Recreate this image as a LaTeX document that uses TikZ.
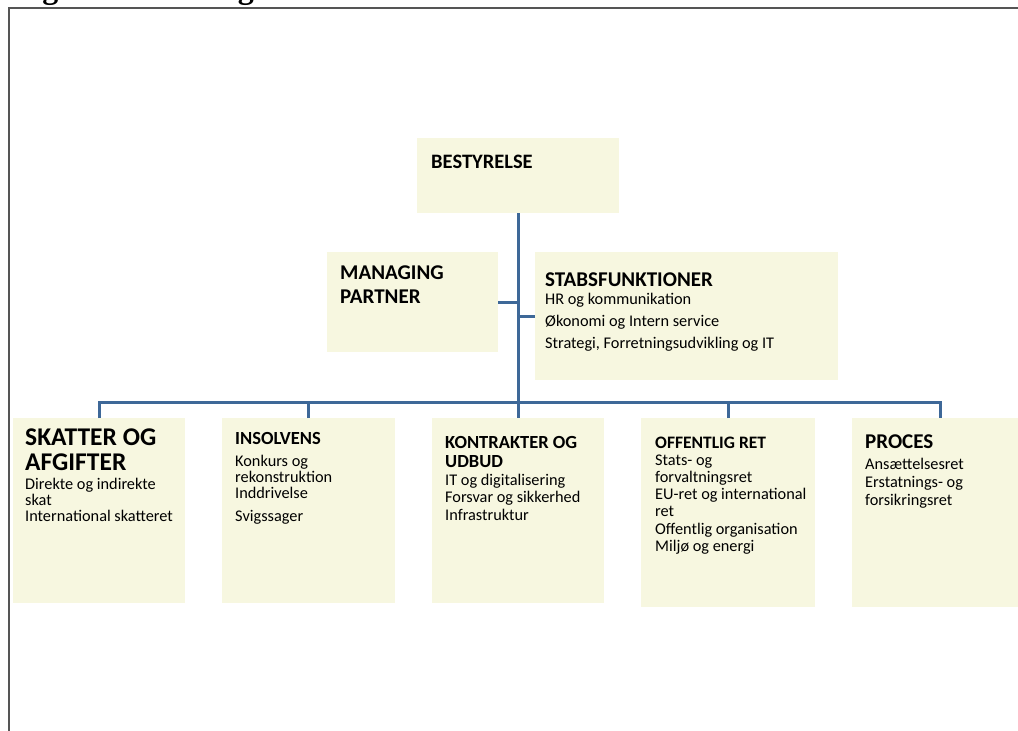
\documentclass[tikz,border=0pt]{standalone}
\usepackage{fontspec}
\setmainfont{Carlito}
\newfontfamily\titlefont{Liberation Serif}
\definecolor{boxfill}{RGB}{247,247,224}
\definecolor{connblue}{RGB}{62,104,152}
\definecolor{framegray}{RGB}{85,85,85}
\begin{document}
\begin{tikzpicture}[x=1pt,y=-1pt,
  box/.style={fill=boxfill, draw=none, inner sep=0pt, outer sep=0pt, anchor=north west},
  conn/.style={draw=connblue, line width=3pt},
  hd/.style={anchor=base west, inner sep=0pt, font=\bfseries\fontsize{#1}{#1}\selectfont},
  bd/.style={anchor=base west, inner sep=0pt, font=\fontsize{16.3}{16.3}\selectfont}]
\useasboundingbox (0,0) rectangle (1018,731);
% title (cut off at the top edge)
\node[anchor=base west, inner sep=0pt, font=\titlefont\bfseries\fontsize{32}{32}\selectfont] (title) at (3,-1.5) {Organisationsdiagram};
% frame
\coordinate (fa) at (9,740);
\coordinate (fb) at (9,8);
\coordinate (fc) at (1030,8);
\draw[framegray, line width=2pt] (fa) -- (fb) -- (fc);
% boxes
\node[box, minimum width=202pt, minimum height=75pt] (best) at (417,138) {};
\node[box, minimum width=171pt, minimum height=100pt] (mp) at (327,252) {};
\node[box, minimum width=303pt, minimum height=128pt] (stab) at (535,252) {};
\node[box, minimum width=172pt, minimum height=185pt] (skat) at (13,418) {};
\node[box, minimum width=173pt, minimum height=185pt] (ins) at (222,418) {};
\node[box, minimum width=172pt, minimum height=185pt] (kon) at (432,418) {};
\node[box, minimum width=174pt, minimum height=189pt] (off) at (641,418) {};
\node[box, minimum width=176pt, minimum height=189pt] (proc) at (852,418) {};
% connectors
\coordinate (hub) at (518,402);
\draw[conn] (best.south) -- (hub) -- (kon.north);
\draw[conn] (mp.east) -- (mp.east -| hub);
\draw[conn] (stab.west) -- (stab.west -| hub);
\draw[conn] (skat.north) -- (skat.north |- hub) -- (proc.north |- hub) -- (proc.north);
\draw[conn] (ins.north) -- (ins.north |- hub);
\draw[conn] (off.north) -- (off.north |- hub);
% texts
\node[hd=20.5] (t1) at (431,168) {BESTYRELSE};
\node[hd=21] (t2) at (340,279) {MANAGING};
\node[hd=21] (t3) at (340,303) {PARTNER};
\node[hd=21] (t4) at (545,286) {STABSFUNKTIONER};
\node[bd] (t5) at (545,304) {HR og kommunikation};
\node[bd] (t6) at (545,326) {Økonomi og Intern service};
\node[bd] (t7) at (545,348) {Strategi, Forretningsudvikling og IT};
\node[hd=25.5] (s1) at (25,445) {SKATTER OG};
\node[hd=25.5] (s2) at (25,470) {AFGIFTER};
\node[bd] (s3) at (25,489) {Direkte og indirekte};
\node[bd] (s4) at (25,505) {skat};
\node[bd] (s5) at (25,521) {International skatteret};
\node[hd=18.5] (i1) at (235,444) {INSOLVENS};
\node[bd] (i2) at (235,466) {Konkurs og};
\node[bd] (i3) at (235,482) {rekonstruktion};
\node[bd] (i4) at (235,498) {Inddrivelse};
\node[bd] (i5) at (235,521) {Svigssager};
\node[hd=18.5] (k1) at (445,448) {KONTRAKTER OG};
\node[hd=18.5] (k2) at (445,467) {UDBUD};
\node[bd] (k3) at (445,485) {IT og digitalisering};
\node[bd] (k4) at (445,502.5) {Forsvar og sikkerhed};
\node[bd] (k5) at (445,520) {Infrastruktur};
\node[hd=17.5] (o1) at (655,448) {OFFENTLIG RET};
\node[bd] (o2) at (655,465) {Stats- og};
\node[bd] (o3) at (655,482) {forvaltningsret};
\node[bd] (o4) at (655,499) {EU-ret og international};
\node[bd] (o5) at (655,516.5) {ret};
\node[bd] (o6) at (655,534) {Offentlig organisation};
\node[bd] (o7) at (655,551) {Miljø og energi};
\node[hd=21] (p1) at (865,448) {PROCES};
\node[bd] (p2) at (865,469) {Ansættelsesret};
\node[bd] (p3) at (865,487) {Erstatnings- og};
\node[bd] (p4) at (865,505) {forsikringsret};
\end{tikzpicture}
\end{document}
